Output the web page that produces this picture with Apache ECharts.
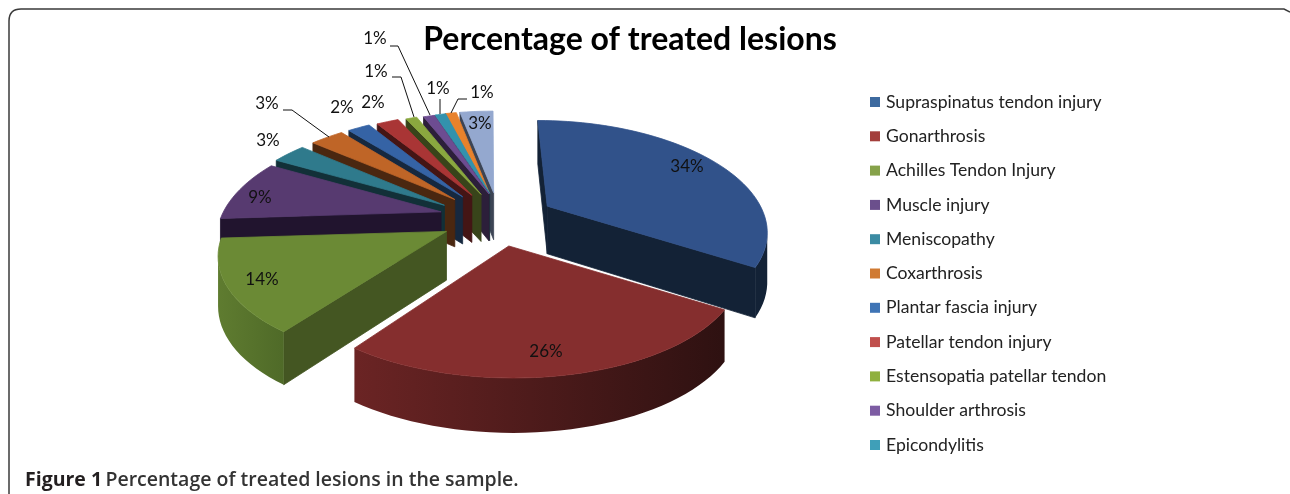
<!DOCTYPE html>
<html><head><meta charset="utf-8">
<style>html,body{margin:0;padding:0;background:#fff}#c{width:1290px;height:494px}</style>
<script src="https://cdn.jsdelivr.net/npm/echarts@6/dist/echarts.min.js"></script></head>
<body><div id="c"></div>
<script>
const categories = ["Supraspinatus tendon injury","Gonarthrosis","Achilles Tendon Injury","Muscle injury","Meniscopathy","Coxarthrosis","Plantar fascia injury","Patellar tendon injury","Estensopatia patellar tendon","Shoulder arthrosis","Epicondylitis","Other 1","Other 2"];
const values = [34,26,14,9,3,3,2,2,1,1,1,1,3];
const legendNames = categories.slice(0,11);
const drawOrder = [12,11,10,9,8,7,6,5,4,3,0,2,1];
const topColors = ["#31528a","#852e2e","#6b8a35","#573a70","#2f7a8c","#bf6527","#3563a5","#a93535","#8aa83f","#6d4c91","#3392ad","#e8822c","#94a8cf"];
const wallColors = ["#132236","#2e1111","#445622","#21142e","#123038","#4a2710","#16283f","#441515","#38441a","#2c1f3a","#153b46","#5d3412","#3c4454"];
const rimFrom = ["#132236","#2e1111","#4f6a28","#21142e","#123038","#4a2710","#16283f","#441515","#38441a","#2c1f3a","#153b46","#5d3412","#3c4454"];
const rimTo = ["#132236","#6b2424","#5f7c30","#21142e","#123038","#4a2710","#16283f","#441515","#38441a","#2c1f3a","#153b46","#5d3412","#3c4454"];
const legendColors = ["#3d6a9f","#a33e3b","#86a24a","#6b4f8c","#3b8ba3","#d07a32","#3f74b5","#c04f4c","#8fb03e","#7d5ca3","#3f9fb8","#e8822c","#94a8cf"];
const EXPLODE = 0.22;
const nudgeX = [0.073,0.04,0,-0.01,-0.03,-0.01,0,0.02,0.045,0.07,0.06,0.045,0.038];
const nudgeY = [-0.021,-0.06,-0.044,-0.018,-0.03,-0.005,0,0,0,0,0,0,0];
const rimX = [0.99,0.98,0.985,1,1,1,1,1,1,1,1,1,1];
const rimY = [1,0.9,0.93,1,1,1,1,1,1,1,1,1,1];
const labelTexts = ["34%","26%","14%","9%","3%","3%","2%","2%","1%","1%","1%","1%","3%"];
const labelAt = [[687,167],[546,352],[262,280],[260,198],[268,141],[267,104],[342,108],[373,103],[376,72],[375,39],[438,89],[482,93],[480,124]];
const leaders = [
  [[390,46],[398,46],[430,115]],
  [[392,77],[401,77],[414,117]],
  [[283,110],[292,110],[329,137]],
  [[440,99],[440,114]],
  [[467,99],[458,99],[451,113]]
];
const CX=490, CY=215, A=219, B=106, K=0.2, DEPTH=48;
const total = values.reduce((a,b)=>a+b,0);
const starts=[]; { let s=0; for(const v of values){ starts.push(s); s+=v; } }
function project(X,Y){const s=1/(1+K*Y);return {x:CX+A*X*s,y:CY-B*Y*s,s};}
function sliceGeom(i){
  const t0=starts[i]/total*2*Math.PI, t1=(starts[i]+values[i])/total*2*Math.PI, m=(t0+t1)/2;
  const ox=EXPLODE*Math.sin(m)+nudgeX[i], oy=EXPLODE*Math.cos(m)+nudgeY[i];
  const n=Math.max(4,Math.ceil(values[i]*1.5));
  const rim=[];
  for(let j=0;j<=n;j++){const t=t0+(t1-t0)*j/n;rim.push(project(ox+rimX[i]*Math.sin(t),oy+rimY[i]*Math.cos(t)));}
  return {apex:project(ox,oy),rim};
}
const drop=p=>[p.x,p.y+DEPTH*Math.sqrt(p.s)];
const xy=p=>[p.x,p.y];
function renderSlice(params){
  const i=categories.indexOf(params.seriesName);
  const g=sliceGeom(i), kids=[];
  const poly=(pts,fill,stroke)=>kids.push({type:'polygon',shape:{points:pts},style:{fill,stroke:stroke||fill,lineWidth:0.8}});
  const wall=(p,q,fill)=>{ if(q.x<p.x) poly([xy(p),xy(q),drop(q),drop(p)],fill); };
  wall(g.apex,g.rim[0],wallColors[i]);
  wall(g.rim[g.rim.length-1],g.apex,wallColors[i]);
  const front=[];
  g.rim.forEach((p,j)=>{ const nx=g.rim[j+1], pv=g.rim[j-1]; if((nx&&nx.x<p.x)||(pv&&p.x<pv.x)) front.push(p); });
  if(front.length>1){
    const grad={type:'linear',x:1,y:0,x2:0,y2:0,colorStops:[{offset:0,color:rimFrom[i]},{offset:1,color:rimTo[i]}]};
    poly(front.map(xy).concat(front.slice().reverse().map(drop)),grad,'transparent');
  }
  poly([xy(g.apex)].concat(g.rim.map(xy)),topColors[i]);
  return {type:'group',children:kids};
}
const FONT='Lato, Carlito, sans-serif';
const series=drawOrder.map(i=>({
  type:'custom',name:categories[i],coordinateSystem:'none',renderItem:renderSlice,
  data:[[values[i]]],itemStyle:{color:legendColors[i]},silent:true,clip:false,animation:false
}));
const frameStyle={fill:'none',stroke:'#3a3a3a',lineWidth:1.5};
const graphic=[
  {type:'polyline',shape:{points:[[9,494],[9,21]]},style:frameStyle,z:1},
  {type:'bezierCurve',shape:{x1:9,y1:21,cpx1:9,cpy1:9,x2:21,y2:9},style:frameStyle,z:1},
  {type:'polyline',shape:{points:[[21,9],[1284,9],[1290,12]]},style:frameStyle,z:1},
  ...leaders.map(p=>({type:'polyline',shape:{points:p},style:{fill:'none',stroke:'#111',lineWidth:1},z:10})),
  ...labelTexts.map((t,i)=>({type:'text',x:labelAt[i][0],y:labelAt[i][1],z:11,style:{text:t,fill:'#111',font:'17px '+FONT,textAlign:'center',textVerticalAlign:'middle'}})),
  {type:'text',x:630,y:40,z:11,style:{text:'Percentage of treated lesions',fill:'#000',font:'bold 32px '+FONT,textAlign:'center',textVerticalAlign:'middle'}},
  {type:'text',x:25,y:480,z:11,style:{rich:{a:{font:'bold 19.5px "Open Sans"',fill:'#231f20'},b:{font:'600 19.5px "Open Sans"',fill:'#333'}},text:'{a|Figure 1} {b|Percentage of treated lesions in the sample.}',textVerticalAlign:'middle'}}
];
const chart=echarts.init(document.getElementById('c'),null,{renderer:'canvas'});
chart.setOption({
  animation:false,backgroundColor:'#fff',
  legend:{data:legendNames,orient:'vertical',left:865,top:88,icon:'rect',itemWidth:10,itemHeight:10,itemGap:16.3,selectedMode:false,
    textStyle:{fontFamily:FONT,fontSize:17.6,color:'#222',height:14,lineHeight:14,padding:[0,0,0,1]}},
  series,graphic
});
</script></body></html>
